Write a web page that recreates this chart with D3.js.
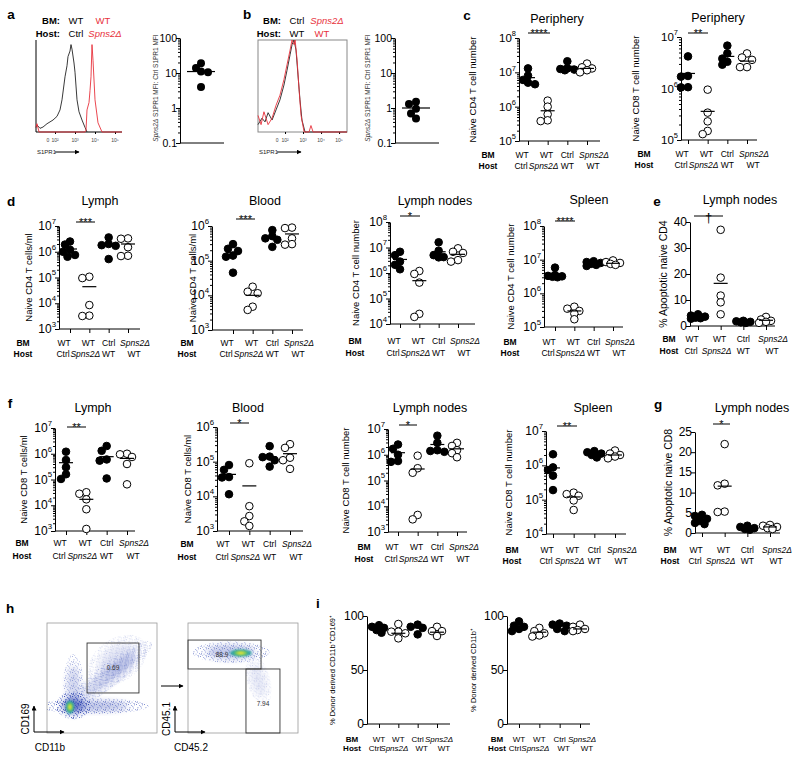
<!DOCTYPE html>
<html><head><meta charset="utf-8">
<script src="https://cdn.jsdelivr.net/npm/d3@7"></script>
<style>body{margin:0;background:#fff} svg text{font-family:"Liberation Sans",Arial,Helvetica,sans-serif}</style>
</head><body><svg id="fig" width="800" height="761"></svg>
<script>
// ================= DATA =================
const bmLabels   = ["WT","WT","Ctrl","Spns2Δ"];
const hostLabels = ["Ctrl","Spns2Δ","WT","WT"];
const groupFilled = [true,false,true,false];

// a, b : ratio of S1PR1 MFI
const aRatio = [19, 14, 11, 10.5, 4];
const aRatioMean = 11;
const bRatio = [1.5, 1.3, 0.95, 0.7, 0.5];
const bRatioMean = 1.0;

// histograms: [log10 fluorescence, % of max]
const aHistCtrl = [[1.05,5],[1.1,7.6],[1.25,4],[1.4,5.4],[1.6,9],[1.9,13],[2.1,17],[2.25,24],[2.35,35],[2.5,60],[2.6,72],[2.65,82],[2.75,88],[2.8,95],[2.85,90],[2.95,75],[3.0,65],[3.1,35],[3.2,22],[3.35,13],[3.5,5],[3.6,0]];
const aHistSpns = [[1.05,5],[1.1,9],[1.2,0],[3.5,0],[3.55,2],[3.6,24],[3.7,32],[3.75,45],[3.8,60],[3.85,95],[3.9,78],[4.0,35],[4.15,10],[4.35,0],[5.35,0]];
const bHistCtrl = [[0.5,8],[0.72,15],[0.89,11],[1.06,21],[1.28,13],[1.5,24],[1.72,35],[1.94,51],[2.11,67],[2.28,84],[2.39,95],[2.5,100],[2.61,89],[2.72,62],[2.83,35],[2.94,13],[3.11,0],[5.44,0]];
const bHistSpns = [[0.5,18],[0.67,8],[0.83,22],[1.06,8],[1.28,15],[1.5,29],[1.72,40],[1.94,57],[2.11,73],[2.28,89],[2.39,100],[2.5,95],[2.56,100],[2.67,78],[2.78,46],[2.89,18],[3.06,0],[3.33,0],[3.44,7],[3.56,0],[5.44,0]];

// c
const cCD4 = [[1.3e7,8e6,6e6,5e6,4.5e6],[1.5e6,1e6,6e5,4e5,3.8e5],[2.1e7,1.3e7,1.25e7,1.2e7,1.15e7],[1.8e7,1.4e7,1.3e7,1.15e7,1e7]];
const cCD4Mean = [7e6,7.6e5,1.5e7,1.3e7];
const cCD8 = [[4.2e6,1.75e6,1.7e6,1.06e6,1.05e6],[9.5e5,3.4e5,2.3e5,1.5e5,1.3e5],[6.8e6,4.8e6,3.8e6,3.3e6,2.9e6],[4.8e6,4e6,3.6e6,2.6e6,2.6e6]];
const cCD8Mean = [1.96e6,3.6e5,4.2e6,3.4e6];
// d (CD4)
const dLymph = [[2.5e6,1.9e6,1.2e6,1e6,7.5e5,6.4e5],[1.07e5,9.5e4,8.5e3,3.3e3,3.2e3],[3.6e6,2e6,1.8e6,1.7e6,5.2e5],[3.3e6,3.2e6,1.5e6,7e5,6.8e5]];
const dLymphMean = [1.28e6,4.4e4,1.9e6,2e6];
const dBlood = [[3e5,2.2e5,1.9e5,1.4e5,1.3e5,4.5e4],[1.77e4,1.27e4,1.15e4,4.7e3,3.8e3],[7.6e5,5.1e5,4.4e5,4e5,2.5e5],[9e5,8.7e5,4.4e5,3e5,2.9e5]];
const dBloodMean = [1.75e5,1e4,4.7e5,5.9e5];
const dLN = [[6.8e6,5e6,2.8e6,2.1e6,1.4e6],[1.2e6,9.2e5,4.2e5,2.5e4,1.9e4],[1.6e7,7.5e6,5e6,4.2e6,4.1e6],[9.3e6,6.8e6,6.1e6,3.2e6,2.8e6]];
const dLNMean = [3.4e6,5e5,6.8e6,5.4e6];
const dSpleen = [[5.8e6,3.5e6,3.3e6,3.2e6,3.1e6,3e6],[4e5,3.5e5,3e5,2.5e5,1.7e5],[9e6,8.5e6,8e6,7.5e6,7e6,6.5e6],[9.5e6,8.5e6,8e6,7.5e6,7e6]];
const dSpleenMean = [3.3e6,3e5,7.8e6,7.8e6];
// e
const eApopCD4 = [[4.5,4,3.6,3.2,3,2.8],[37,18.6,11.7,9.1,4.5],[2,1.8,1.6,1.4,1.2],[3.5,2.5,2,1.6,1.2]];
const eApopCD4Mean = [3.7,16.4,1.7,2.2];
// f (CD8)
const fLymph = [[1.2e6,5.7e5,3e5,1.6e5,1.05e5],[3.2e4,2.8e4,1.7e4,7e3,1.2e3],[2e6,1.3e6,6e5,5.4e5,1.1e5],[1e6,9.5e5,7.5e5,4e5,6.5e4]];
const fLymphMean = [4.5e5,1.7e4,7.7e5,6.6e5];
const fBlood = [[8e4,5.8e4,3.6e4,3.5e4,1.15e4],[9e4,5.2e3,2.7e3,1.9e3,1.4e3],[2.8e5,1.4e5,1.35e5,1.1e5,7.2e4],[3.2e5,2.5e5,1.3e5,1.1e5,6.2e4]];
const fBloodMean = [4.3e4,2e4,1.4e5,1.7e5];
const fLN = [[2.5e6,1.7e6,1e6,5.7e5,5.3e5],[9.2e5,3e5,2e5,4.6e3,3.1e3],[5.5e6,2.9e6,1.5e6,1.4e6,1.3e6],[2.9e6,2.2e6,1.5e6,1.15e6,8e5]];
const fLNMean = [1.2e6,2.8e5,2.5e6,1.7e6];
const fSpleen = [[2.1e6,8.7e5,7.3e5,5e5,1.9e5],[1.6e5,1.45e5,1.3e5,9.5e4,5e4],[2.6e6,2.4e6,2.2e6,2e6,1.7e6],[2.7e6,2.2e6,2e6,1.8e6,1.6e6]];
const fSpleenMean = [8.4e5,1.2e5,2.1e6,2e6];
// g
const gApopCD8 = [[4.5,4.2,3.5,3,2.5,2.2],[22,12.2,11.8,5.3,5.2],[1.8,1.5,1.2,1,0.8],[2,1.8,1.5,1.2,1]];
const gApopCD8Mean = [3.3,11.6,1.3,1.5];
// i
const iCD169 = [[91.5,90,89,87,84.5],[92.6,85.5,85.5,84,79.3],[92,90,89,83],[90,86,86,81.5]];
const iCD169Mean = [88,84,89,85];
const iCD11b = [[95,91,90,88,86],[89,86,84,82,81],[93,92,91,88,86],[92,90,88,87,86]];
const iCD11bMean = [89,85,91,88];

// h : flow cytometry density (ellipse clouds, arbitrary 0-1000 channel units)
const hLeftClouds = [
  {cx:430,cy:245,rx:380,ry:55,rot:0,d:0.45},
  {cx:560,cy:520,rx:380,ry:80,rot:-38,d:0.3},
  {cx:240,cy:420,rx:70,ry:230,rot:0,d:0.3},
  {cx:240,cy:250,rx:120,ry:95,rot:0,d:0.75},
  {cx:640,cy:660,rx:230,ry:150,rot:-35,d:0.18}
];
const hLeftHot = [{cx:209,cy:236,rx:38,ry:60}];
const hLeftGate = [[364,836,364,818]];
const hLeftGateLabels = [{x:600,y:591,t:"0.69"}];
const hRightClouds = [
  {cx:390,cy:735,rx:270,ry:75,rot:0,d:0.4},
  {cx:640,cy:480,rx:80,ry:180,rot:-15,d:0.15}
];
const hRightHot = [{cx:480,cy:727,rx:100,ry:32}];
const hRightGate = [[0,664,582,845],[527,836,0,582]];
const hRightGateLabels = [{x:309,y:718,t:"88.9"},{x:682,y:264,t:"7.94"}];

// ================= DRAWING =================
const svg = d3.select("#fig");
const RED = "#e8323c";

function txt(x, y, s, o = {}) {
  const t = svg.append("text").attr("x", x).attr("y", y).text(s)
    .attr("font-size", o.fs || 10).attr("text-anchor", o.anchor || "middle")
    .attr("dominant-baseline", o.db || "central").attr("fill", o.fill || "#000");
  if (o.bold) t.attr("font-weight", "bold");
  if (o.italic) t.attr("font-style", "italic");
  if (o.rotate) t.attr("transform", `rotate(-90,${x},${y})`);
  return t;
}
const defs = svg.append("defs");
defs.append("marker").attr("id","arr").attr("viewBox","0 0 10 10").attr("refX",9).attr("refY",5)
  .attr("markerWidth",5).attr("markerHeight",5).attr("orient","auto")
  .append("path").attr("d","M0,0 L10,5 L0,10 z").attr("fill","#000");
defs.append("filter").attr("id","blur").attr("x","-50%").attr("y","-50%").attr("width","200%").attr("height","200%")
  .append("feGaussianBlur").attr("stdDeviation",3);
defs.append("filter").attr("id","blur2").attr("x","-50%").attr("y","-50%").attr("width","200%").attr("height","200%")
  .append("feGaussianBlur").attr("stdDeviation",1.2);
// speckle texture tile (hand-placed dots)
const speckle = [[0,0],[3.2,1.1],[6.1,0.4],[1.5,3.3],[5.0,3.6],[7.1,5.2],[0.6,6.1],[3.6,5.7],[2.2,7.4],[5.6,7.1],[4.3,2.2],[1.1,4.9]];
const pat = defs.append("pattern").attr("id","dots").attr("width",8).attr("height",8).attr("patternUnits","userSpaceOnUse");
speckle.forEach((s, k) => pat.append("rect").attr("x", s[0]).attr("y", s[1]).attr("width", 0.9).attr("height", 0.9)
  .attr("fill", k % 3 === 0 ? "#2a3fae" : (k % 3 === 1 ? "#4a5fc4" : "#3a50b8")));

function decades(dom) { const r = []; for (let e = Math.log10(dom[0]); e <= Math.log10(dom[1]) + 1e-9; e++) r.push(Math.pow(10, Math.round(e))); return r; }
function minors(dom) { const r = []; for (let e = Math.round(Math.log10(dom[0])); e < Math.round(Math.log10(dom[1])); e++) for (let k = 2; k <= 9; k++) r.push(k * Math.pow(10, e)); return r; }

function swarm(vals, cx, y, r) {
  const pts = vals.map(v => ({ v, y: y(v) })).sort((a, b) => a.y - b.y);
  const placed = [];
  const offs = [0, -5, 5, -2.5, 2.5, -7, 7];
  for (const p of pts) {
    let best = null, bestD = -1;
    for (const o of offs) {
      const x = cx + o;
      const dmin = placed.length ? d3.min(placed, q => Math.hypot(q.x - x, q.y - p.y)) : 99;
      if (dmin >= 2 * r - 2) { best = x; break; }
      if (dmin > bestD) { bestD = dmin; best = x; }
    }
    p.x = best;
    placed.push(p);
  }
  return placed;
}

function yAxis(g, y, p, majors, fmt) {
  g.append("g").attr("transform", `translate(${p.ax},0)`)
    .call(d3.axisLeft(y).tickValues(majors).tickSize(4).tickSizeOuter(0).tickFormat(""));
  if (p.log) g.append("g").attr("transform", `translate(${p.ax},0)`)
    .call(d3.axisLeft(y).tickValues(minors(p.dom)).tickSize(2).tickFormat(""))
    .call(s => s.select(".domain").remove());
  const fs = p.tfs || 12;
  majors.forEach(v => {
    const t = g.append("text").attr("x", p.ax - 3).attr("y", y(v)).attr("text-anchor", "end")
      .attr("dominant-baseline", "central").attr("font-size", fs);
    if (fmt === "pow") {
      t.append("tspan").text("10");
      t.append("tspan").text(Math.round(Math.log10(v))).attr("font-size", fs * 0.65).attr("dy", -fs * 0.42);
    } else t.text(fmt ? fmt(v) : v);
  });
}

const BM_OFF = [-6, -1, 0, 7], HOST_OFF = [-7, -4, 0, 6];

function dotPlot(p) {
  const g = svg.append("g");
  const y = p.log ? d3.scaleLog().domain(p.dom).range([p.bot, p.top]) : d3.scaleLinear().domain(p.dom).range([p.bot, p.top]);
  const x = d3.scalePoint().domain(d3.range(p.vals.length)).range([p.t1, p.t4]);
  yAxis(g, y, p, p.log ? decades(p.dom) : p.ticks, p.log ? "pow" : null);
  g.append("g").attr("transform", `translate(0,${p.bot})`)
    .call(d3.axisBottom(x).tickSize(4).tickFormat("")).call(s => s.select(".domain").remove());
  g.append("line").attr("x1", p.ax).attr("x2", p.xEnd).attr("y1", p.bot).attr("y2", p.bot).attr("stroke", "#000");
  const r = p.r || 3.8;
  p.vals.forEach((vals, i) => {
    swarm(vals, x(i), y, r).forEach(pt => {
      g.append("circle").attr("cx", pt.x).attr("cy", pt.y).attr("r", r)
        .attr("fill", groupFilled[i] ? "#000" : "#fff").attr("stroke", "#000").attr("stroke-width", 1);
    });
    const mh = p.mh || 7;
    g.append("line").attr("x1", x(i) - mh).attr("x2", x(i) + mh).attr("y1", y(p.means[i])).attr("y2", y(p.means[i]))
      .attr("stroke", "#000").attr("stroke-width", 1.2);
  });
  if (p.title) txt(p.tx, p.ty, p.title, { fs: 12.5 });
  if (p.sig) {
    g.append("line").attr("x1", p.sig[0]).attr("x2", p.sig[1]).attr("y1", p.sig[2]).attr("y2", p.sig[2]).attr("stroke", "#000");
    if (p.sig[3] === "†") txt((p.sig[0] + p.sig[1]) / 2, p.sig[2] + 1, "†", { fs: 13, db: "central" });
    else txt((p.sig[0] + p.sig[1]) / 2, p.sig[2] + 4, p.sig[3], { fs: 11, db: "auto" });
  }
  txt(p.yl, (p.top + p.bot) / 2, p.ylab, { fs: p.ylfs || 9.5, rotate: true });
  const bfs = p.bfs || 8.5;
  const bo = p.bmOff || BM_OFF, ho = p.hoOff || HOST_OFF;
  txt(p.bmX, p.bmY, "BM", { fs: bfs, bold: true });
  txt(p.bmX, p.hoY, "Host", { fs: bfs, bold: true });
  bmLabels.forEach((l, i) => txt(x(i) + bo[i], p.bmY, l, { fs: bfs, italic: l.startsWith("Spns") }));
  hostLabels.forEach((l, i) => txt(x(i) + ho[i], p.hoY, l, { fs: bfs, italic: l.startsWith("Spns") }));
}

const panels = [
  { vals: cCD4, means: cCD4Mean, log: true, dom: [1e5, 1e8], ax: 519, top: 38, bot: 141, t1: 528, t4: 587, xEnd: 600, title: "Periphery", tx: 557, ty: 19, sig: [528, 550, 33, "****"], ylab: "Naive CD4 T cell number", yl: 472, bmX: 488, bmY: 155, hoY: 166, tfs: 11.5 },
  { vals: cCD8, means: cCD8Mean, log: true, dom: [1e5, 1e7], ax: 681, top: 37, bot: 140, t1: 688, t4: 747, xEnd: 757, title: "Periphery", tx: 718, ty: 18, sig: [688, 708, 33, "**"], ylab: "Naive CD8 T cell number", yl: 635, bmX: 644, bmY: 154, hoY: 165, tfs: 11.5 },
  { vals: dLymph, means: dLymphMean, log: true, dom: [1e3, 1e7], ax: 59, top: 226, bot: 329, t1: 70, t4: 128, xEnd: 140, title: "Lymph", tx: 100, ty: 201, sig: [76, 95, 222, "***"], ylab: "Naive CD4 T cells/ml", yl: 28, bmX: 23, bmY: 343, hoY: 354 },
  { vals: dBlood, means: dBloodMean, log: true, dom: [1e3, 1e6], ax: 212, top: 226, bot: 330, t1: 233, t4: 292, xEnd: 303, title: "Blood", tx: 265, ty: 201, sig: [236, 255, 219, "***"], ylab: "Naive CD4 T cells/ml", yl: 192, bmX: 187, bmY: 343, hoY: 354 },
  { vals: dLN, means: dLNMean, log: true, dom: [1e4, 1e8], ax: 390, top: 222, bot: 324, t1: 400, t4: 458, xEnd: 475, title: "Lymph nodes", tx: 435, ty: 201, sig: [400, 420, 216, "*"], ylab: "Naive CD4 T cell number", yl: 355, bmX: 355, bmY: 341, hoY: 353 },
  { vals: dSpleen, means: dSpleenMean, log: true, dom: [1e5, 1e8], ax: 544, top: 226, bot: 327, t1: 555, t4: 613, xEnd: 623, title: "Spleen", tx: 589, ty: 200, sig: [555, 575, 221, "****"], ylab: "Naive CD4 T cell number", yl: 510, bmX: 510, bmY: 342, hoY: 353 },
  { vals: eApopCD4, means: eApopCD4Mean, log: false, dom: [0, 40], ticks: [0, 10, 20, 30, 40], ax: 690, top: 222, bot: 326, t1: 698, t4: 766, xEnd: 775, title: "Lymph nodes", tx: 740, ty: 200, sig: [694, 723, 216, "†"], ylab: "% Apoptotic naive CD4", yl: 663, ylfs: 10.5, bmX: 669, bmY: 339, hoY: 351 },
  { vals: fLymph, means: fLymphMean, log: true, dom: [1e3, 1e7], ax: 55, top: 428, bot: 531, t1: 66, t4: 127, xEnd: 135, title: "Lymph", tx: 93, ty: 408, sig: [67, 86, 427, "**"], ylab: "Naive CD8 T cells/ml", yl: 23, bmX: 22, bmY: 543, hoY: 556 },
  { vals: fBlood, means: fBloodMean, log: true, dom: [1e3, 1e6], ax: 217, top: 427, bot: 531, t1: 229, t4: 290, xEnd: 303, title: "Blood", tx: 248, ty: 408, sig: [230, 249, 423, "*"], ylab: "Naive CD8 T cells/ml", yl: 187, bmX: 187, bmY: 544, hoY: 557 },
  { vals: fLN, means: fLNMean, log: true, dom: [1e3, 1e7], ax: 388, top: 429, bot: 532, t1: 398, t4: 457, xEnd: 467, title: "Lymph nodes", tx: 430, ty: 408, sig: [399, 417, 425, "*"], ylab: "Naive CD8 T cell number", yl: 345, bmX: 364, bmY: 547, hoY: 559 },
  { vals: fSpleen, means: fSpleenMean, log: true, dom: [1e4, 1e7], ax: 546, top: 431, bot: 534, t1: 553, t4: 615, xEnd: 626, title: "Spleen", tx: 593, ty: 408, sig: [557, 577, 426, "**"], ylab: "Naive CD8 T cell number", yl: 508, bmX: 512, bmY: 550, hoY: 561 },
  { vals: gApopCD8, means: gApopCD8Mean, log: false, dom: [0, 25], ticks: [0, 5, 10, 15, 20, 25], ax: 695, top: 432, bot: 533, t1: 702, t4: 770, xEnd: 780, title: "Lymph nodes", tx: 752, ty: 408, sig: [713, 730, 424, "*"], ylab: "% Apoptotic naive CD8", yl: 668, ylfs: 10.5, bmX: 670, bmY: 550, hoY: 561 },
  { vals: iCD169, means: iCD169Mean, log: false, dom: [0, 100], ticks: [0, 50, 100], ax: 367, top: 616, bot: 724, t1: 379, t4: 437, xEnd: 450, ylab: "% Donor derived CD11b⁺CD169⁺", yl: 332, ylfs: 7.5, bmX: 352, bmY: 739, hoY: 748, bfs: 8, bmOff: [0, 0, 0, 2], hoOff: [-4, -4, 4, 7] },
  { vals: iCD11b, means: iCD11bMean, log: false, dom: [0, 100], ticks: [0, 50, 100], ax: 507, top: 616, bot: 724, t1: 519, t4: 580, xEnd: 590, ylab: "% Donor derived CD11b⁺", yl: 473, ylfs: 7.5, bmX: 497, bmY: 739, hoY: 748, bfs: 8, bmOff: [0, 0, 0, 2], hoOff: [-4, -4, 4, 7] }
];
panels.forEach(dotPlot);

// ---- a / b ratio scatter ----
function ratioPlot(ax, vals, mean, yl) {
  const p = { ax, log: true, dom: [0.1, 100], tfs: 10.5 };
  const g = svg.append("g");
  const y = d3.scaleLog().domain(p.dom).range([143, 38]);
  yAxis(g, y, p, [0.1, 1, 10, 100], v => v >= 1 ? d3.format("d")(v) : "0.1");
  g.append("line").attr("x1", ax).attr("x2", ax + 44).attr("y1", 143).attr("y2", 143).attr("stroke", "#000");
  const cx = ax + 21;
  swarm(vals, cx, y, 4).forEach(pt => g.append("circle").attr("cx", pt.x).attr("cy", pt.y).attr("r", 4).attr("fill", "#000"));
  g.append("line").attr("x1", cx - 14).attr("x2", cx + 14).attr("y1", y(mean)).attr("y2", y(mean)).attr("stroke", "#000").attr("stroke-width", 1.2);
  const t = svg.append("text").attr("x", yl).attr("y", 88).attr("text-anchor", "middle").attr("dominant-baseline", "central")
    .attr("font-size", 6.5).attr("fill", "#333").attr("transform", `rotate(-90,${yl},88)`);
  t.append("tspan").text("Spns2Δ").attr("font-style", "italic");
  t.append("tspan").text(" S1PR1 MFI: Ctrl S1PR1 MFI");
}
ratioPlot(180, aRatio, aRatioMean, 155);
ratioPlot(395, bRatio, bRatioMean, 367);

// ---- a / b histograms ----
function histPlot(x0, x1, dom, c1, c2, box, tickLab) {
  const x = d3.scaleLinear().domain(dom).range([x0, x1]);
  const y = d3.scaleLinear().domain([0, 100]).range([132, 40]);
  const g = svg.append("g");
  if (box) g.append("rect").attr("x", x0).attr("y", 40).attr("width", x1 - x0).attr("height", 92).attr("fill", "none").attr("stroke", "#888");
  else {
    g.append("line").attr("x1", x0).attr("x2", x0).attr("y1", 40).attr("y2", 132).attr("stroke", "#000");
    g.append("line").attr("x1", x0).attr("x2", x1).attr("y1", 132).attr("y2", 132).attr("stroke", "#000");
  }
  g.append("g").attr("transform", "translate(0,132)").call(d3.axisBottom(x).tickValues([2, 3, 4, 5]).tickSize(2).tickFormat("")).call(s => s.select(".domain").remove());
  const line = d3.line().x(d => x(d[0])).y(d => y(d[1]));
  g.append("path").attr("d", line(c1)).attr("fill", "none").attr("stroke", "#222").attr("stroke-width", 0.9);
  g.append("path").attr("d", line(c2)).attr("fill", "none").attr("stroke", RED).attr("stroke-width", 0.9);
  tickLab.forEach(tl => txt(x(tl[0]), 140, tl[1], { fs: 5, fill: "#444" }));
  txt(x0 + 1, 152, "S1PR1", { fs: 6, anchor: "start", fill: "#222" });
  g.append("line").attr("x1", x0 + 19).attr("x2", x0 + 43).attr("y1", 152).attr("y2", 152).attr("stroke", "#000").attr("marker-end", "url(#arr)");
}
histPlot(36, 122, [1.05, 5.35], aHistCtrl, aHistSpns, false, [[1.65, "0"], [2, "10²"], [3, "10³"], [4, "10⁴"], [5, "10⁵"]]);
histPlot(258, 347, [0.5, 5.44], bHistCtrl, bHistSpns, true, [[1.56, "0"], [2, "10²"], [3, "10³"], [4, "10⁴"], [5, "10⁵"]]);

// headers of a, b
txt(60, 20, "BM:", { fs: 9.5, bold: true, anchor: "end" });
txt(60, 33, "Host:", { fs: 9.5, bold: true, anchor: "end" });
txt(76, 20, "WT", { fs: 9.5 }); txt(103, 20, "WT", { fs: 9.5, fill: RED });
txt(76, 33, "Ctrl", { fs: 9.5 }); txt(105, 33, "Spns2Δ", { fs: 9.5, fill: RED, italic: true });
txt(281, 20, "BM:", { fs: 9.5, bold: true, anchor: "end" });
txt(281, 33, "Host:", { fs: 9.5, bold: true, anchor: "end" });
txt(297, 20, "Ctrl", { fs: 9.5 }); txt(327, 20, "Spns2Δ", { fs: 9.5, fill: RED, italic: true });
txt(297, 33, "WT", { fs: 9.5 }); txt(322, 33, "WT", { fs: 9.5, fill: RED });

// ---- h : flow plots ----
function flowPlot(x0, clouds, hots, gates, labels, xl, yl) {
  const fx = d3.scaleLinear().domain([0, 1000]).range([x0, x0 + 110]);
  const fy = d3.scaleLinear().domain([0, 1000]).range([733, 623]);
  const sx = 110 / 1000;
  const id = "clip" + x0;
  defs.append("clipPath").attr("id", id).append("rect").attr("x", x0).attr("y", 623).attr("width", 110).attr("height", 110);
  const g = svg.append("g").attr("clip-path", `url(#${id})`);
  clouds.forEach(c => {
    const tr = `rotate(${c.rot},${fx(c.cx)},${fy(c.cy)})`;
    g.append("ellipse").attr("cx", fx(c.cx)).attr("cy", fy(c.cy)).attr("rx", c.rx * sx * 1.3).attr("ry", c.ry * sx * 1.3)
      .attr("transform", tr).attr("fill", "url(#dots)").attr("opacity", Math.min(1, c.d * 1.6));
    g.append("ellipse").attr("cx", fx(c.cx)).attr("cy", fy(c.cy)).attr("rx", c.rx * sx * 0.8).attr("ry", c.ry * sx * 0.8)
      .attr("transform", tr).attr("fill", "#3347b3").attr("opacity", c.d * 0.75).attr("filter", "url(#blur)");
  });
  hots.forEach(h => {
    g.append("ellipse").attr("cx", fx(h.cx)).attr("cy", fy(h.cy)).attr("rx", h.rx * sx).attr("ry", h.ry * sx).attr("fill", "#2fa6a0").attr("filter", "url(#blur2)");
    g.append("ellipse").attr("cx", fx(h.cx)).attr("cy", fy(h.cy)).attr("rx", h.rx * sx * 0.6).attr("ry", h.ry * sx * 0.6).attr("fill", "#8fd14f").attr("filter", "url(#blur2)");
    g.append("ellipse").attr("cx", fx(h.cx)).attr("cy", fy(h.cy)).attr("rx", h.rx * sx * 0.3).attr("ry", h.ry * sx * 0.3).attr("fill", "#f2e23a").attr("filter", "url(#blur2)");
  });
  svg.append("rect").attr("x", x0).attr("y", 623).attr("width", 110).attr("height", 110).attr("fill", "none").attr("stroke", "#999").attr("stroke-width", 0.8);
  gates.forEach(q => svg.append("rect").attr("x", fx(q[0])).attr("y", fy(q[3])).attr("width", fx(q[1]) - fx(q[0])).attr("height", fy(q[2]) - fy(q[3]))
    .attr("fill", "none").attr("stroke", "#333").attr("stroke-width", 0.9));
  labels.forEach(l => txt(fx(l.x), fy(l.y), l.t, { fs: 6.5, fill: "#333" }));
  const ax = x0 - 13;
  svg.append("line").attr("x1", ax).attr("x2", ax).attr("y1", 732).attr("y2", 706).attr("stroke", "#000").attr("marker-end", "url(#arr)");
  svg.append("line").attr("x1", ax).attr("x2", ax + 30).attr("y1", 732).attr("y2", 732).attr("stroke", "#000").attr("marker-end", "url(#arr)");
  txt(ax - 9, 719, yl, { fs: 10, rotate: true });
  txt(ax + 16, 747, xl, { fs: 10 });
}
flowPlot(47, hLeftClouds, hLeftHot, hLeftGate, hLeftGateLabels, "CD11b", "CD169");
flowPlot(188, hRightClouds, hRightHot, hRightGate, hRightGateLabels, "CD45.2", "CD45.1");
svg.append("line").attr("x1", 161).attr("x2", 183).attr("y1", 686).attr("y2", 686).attr("stroke", "#000").attr("marker-end", "url(#arr)");

// ---- panel letters ----
[["a", 11, 14], ["b", 247, 14], ["c", 467, 15], ["d", 11, 201], ["e", 657, 201], ["f", 10, 403], ["g", 658, 404], ["h", 10, 608], ["i", 318, 603]]
  .forEach(l => txt(l[1], l[2], l[0], { fs: 13.5, bold: true }));
</script></body></html>
